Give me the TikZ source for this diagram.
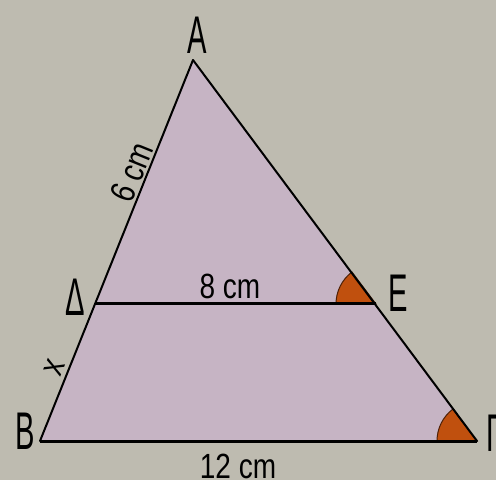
\documentclass[tikz,border=0pt]{standalone}
\usepackage{fontspec}
\setmainfont{Liberation Sans}
\newfontfamily\vertexfont[FakeStretch=0.55]{Liberation Sans}
\newfontfamily\lengthfont[FakeStretch=0.8]{Liberation Sans}
\usepackage{tikz}

\definecolor{paper}{RGB}{190,187,176}
\definecolor{lilac}{RGB}{198,180,196}
\definecolor{anglefill}{RGB}{192,80,14}

\begin{document}
\begin{tikzpicture}[
    x=1pt, y=1pt,
    vertex/.style={font=\vertexfont\fontsize{53}{53}\selectfont, inner sep=0pt},
    length/.style={font=\lengthfont\fontsize{35}{35}\selectfont, inner sep=0pt},
    side/.style={line width=2pt, line cap=round},
    parallel/.style={line width=3pt},
    anglemark/.style={fill=anglefill, draw=black!60!anglefill, line width=1pt}
]

\fill[paper] (0,0) rectangle (496,480);
\useasboundingbox (0,0) rectangle (496,480);

\coordinate (A) at (193,420);
\coordinate (B) at (40,39);
\coordinate (G) at (477,39);
\coordinate (D) at (95,176);
\coordinate (E) at (376,176);

\fill[lilac] (A) -- (B) -- (G) -- cycle;

\draw[anglemark] (E) -- +(180:40) arc[start angle=180, end angle=127, radius=40] -- cycle;
\draw[anglemark] (G) -- +(180:40) arc[start angle=180, end angle=127, radius=40] -- cycle;

\draw[side] (A) -- (B);
\draw[side] (A) -- (G);
\draw[parallel] (D) -- (E);
\draw[parallel] (B) -- (G);

\node[vertex] (lA) at (197,445) {A};
\node[vertex] (lD) at (75,183) {Δ};
\node[vertex] (lE) at (398,187) {E};
\node[vertex] (lB) at (25,49) {B};
\node[vertex, anchor=west] (lG) at (486,47) {Γ};

\node[length, rotate=68] (AD) at (132,308) {6 cm};
\node[length, rotate=68] (DB) at (55,112) {x};
\node[length] (DE) at (230,194) {8 cm};
\node[length] (BG) at (238,14) {12 cm};

\end{tikzpicture}
\end{document}
